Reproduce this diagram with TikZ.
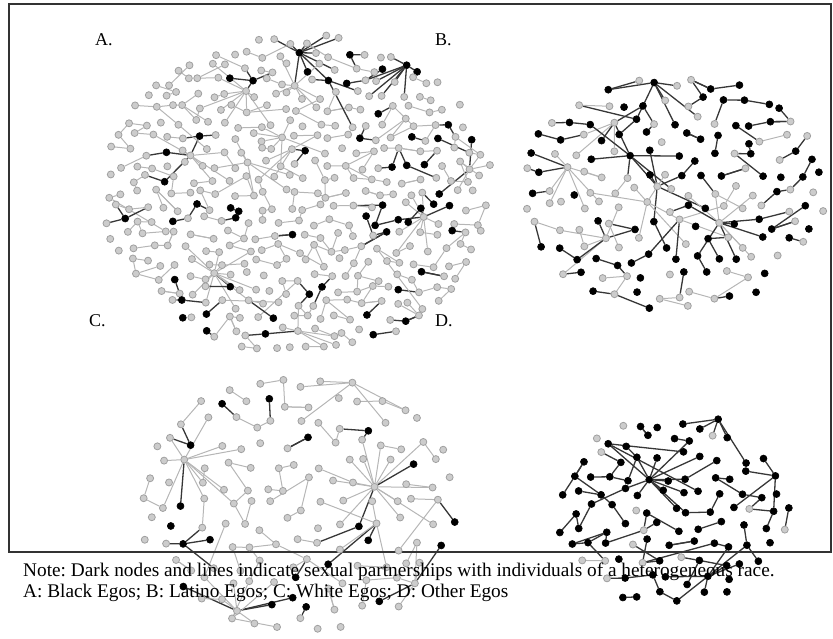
\documentclass[tikz,border=0pt]{standalone}
\usepackage{fontspec}
\setmainfont{Liberation Serif}
\usetikzlibrary{backgrounds}
\definecolor{edgegray}{RGB}{182,182,182}
\definecolor{nodegray}{RGB}{204,204,204}
\definecolor{rimgray}{RGB}{160,160,160}
\definecolor{darkline}{RGB}{55,55,55}

\tikzset{
  gnode/.style={circle, fill=nodegray, draw=rimgray, line width=0.8pt, inner sep=0pt, minimum size=7pt},
  dnode/.style={circle, fill=black, draw=black, line width=0.6pt, inner sep=0pt, minimum size=7pt},
  gedge/.style={edgegray, line width=1pt},
  dedge/.style={darkline, line width=1.3pt},
  tag/.style={font=\fontsize{18}{20}\selectfont, anchor=base west, inner sep=0pt},
  note/.style={font=\fontsize{19.3}{21}\selectfont\frenchspacing, anchor=base west, inner sep=0pt},
}

% tie between grid nodes #2/#3 and #4/#5 of network #1, dark if one end is dark
\newcommand\addtie[5]{%
  \def\eg{gedge}%
  \ifcsname dk-#1-#2-#3\endcsname\def\eg{dedge}\fi
  \ifcsname dk-#1-#4-#5\endcsname\def\eg{dedge}\fi
  \xdef\edgelist{\ifx\edgelist\empty\else\edgelist,\fi#1-#2-#3/#1-#4-#5/\eg}}

% #1 name, #2 cx, #3 cy, #4 rx, #5 ry, #6 cell, #7 share dark, #8 share hubs, #9 share tied
\newcommand\drawnet[9]{%
  \gdef\edgelist{}\gdef\hublist{}%
  \pgfmathtruncatemacro\nx{#4/#6+1}
  \pgfmathtruncatemacro\nxm{-\nx}
  \pgfmathtruncatemacro\ny{#5/(0.87*#6)+1}
  \pgfmathtruncatemacro\nym{-\ny}
  % nodes
  \foreach \j in {\nym,...,\ny}{
    \foreach \i in {\nxm,...,\nx}{
      \pgfmathsetmacro\px{#2+(\i+0.5*mod(abs(\j),2))*#6+0.3*#6*rand}
      \pgfmathsetmacro\py{#3+\j*0.87*#6+0.3*#6*rand}
      \pgfmathsetmacro\dd{((\px-#2)/#4)^2+((\py-#3)/#5)^2}
      \ifdim\dd pt<1pt
        \pgfmathtruncatemacro\ci{\i+50}
        \pgfmathtruncatemacro\cj{\j+50}
        \expandafter\xdef\csname in-#1-\ci-\cj\endcsname{1}%
        \pgfmathtruncatemacro\nd{rnd<#7}
        \ifnum\nd=1
          \expandafter\xdef\csname dk-#1-\ci-\cj\endcsname{1}%
          \node[dnode] (#1-\ci-\cj) at (\px,\py) {};
        \else
          \node[gnode] (#1-\ci-\cj) at (\px,\py) {};
        \fi
        \pgfmathtruncatemacro\nh{rnd<#8}
        \ifnum\nh=1 \xdef\hublist{\ifx\hublist\empty\else\hublist,\fi\ci/\cj}\fi
      \fi
    }
  }
  % stars
  \ifx\hublist\empty\else
  \foreach \hi/\hj in \hublist{
    \expandafter\xdef\csname tk-#1-\hi-\hj\endcsname{1}%
    \foreach \di in {-2,...,2}{
      \foreach \dj in {-2,...,2}{
        \pgfmathtruncatemacro\ti{\hi+\di}
        \pgfmathtruncatemacro\tj{\hj+\dj}
        \ifcsname in-#1-\ti-\tj\endcsname
        \ifcsname tk-#1-\ti-\tj\endcsname\else
          \pgfmathtruncatemacro\go{rnd<0.45}
          \ifnum\go=1
            \expandafter\xdef\csname tk-#1-\ti-\tj\endcsname{1}%
            \addtie{#1}{\hi}{\hj}{\ti}{\tj}
          \fi
        \fi\fi
      }
    }
  }\fi
  % dyads and chains
  \foreach \j in {\nym,...,\ny}{
    \foreach \i in {\nxm,...,\nx}{
      \pgfmathtruncatemacro\ci{\i+50}
      \pgfmathtruncatemacro\cj{\j+50}
      \ifcsname in-#1-\ci-\cj\endcsname
      \ifcsname tk-#1-\ci-\cj\endcsname\else
        \pgfmathtruncatemacro\go{rnd<#9}
        \ifnum\go=1
          \pgfmathsetmacro\lr{rnd<0.05 ? 4 : 1}
          \pgfmathtruncatemacro\ti{\ci+round((2*rnd-1)*\lr)}
          \pgfmathtruncatemacro\tj{\cj+round((2*rnd-1)*\lr)}
          \ifnum\ti=\ci \ifnum\tj=\cj \pgfmathtruncatemacro\ti{\ci+1}\fi\fi
          \ifcsname in-#1-\ti-\tj\endcsname
            \addtie{#1}{\ci}{\cj}{\ti}{\tj}
          \fi
        \fi
      \fi\fi
    }
  }
  \begin{pgfonlayer}{background}
    \foreach \p/\q/\s in \edgelist {\draw[\s] (\p) -- (\q);}
  \end{pgfonlayer}
}

\begin{document}
\begin{tikzpicture}[x=1pt, y=-1pt]
  \useasboundingbox (0,0) rectangle (833,639);
  \draw[black!80, line width=1.6pt] (9,4) rectangle (831,552);

  % the four ego networks
  \pgfmathsetseed{11}
  \drawnet{A}{298}{193}{196}{161}{16}{0.1}{0.035}{0.92}
  \pgfmathsetseed{23}
  \drawnet{B}{674}{190}{155}{121}{20}{0.45}{0.045}{0.9}
  \pgfmathsetseed{37}
  \drawnet{C}{300}{504}{162}{130}{23}{0.18}{0.035}{0.9}
  \pgfmathsetseed{41}
  \drawnet{D}{671}{510}{119}{99}{20}{0.85}{0.045}{0.92}

  \node[tag] (labA) at (95,46) {A.};
  \node[tag] (labB) at (435,46) {B.};
  \node[tag] (labC) at (89,326) {C.};
  \node[tag] (labD) at (435,326) {D.};

  \node[note] (note1) at (23,576) {Note: Dark nodes and lines indicate sexual partnerships with individuals of a heterogeneous race.};
  \node[note] (note2) at (23,597) {A: Black Egos; B: Latino Egos; C: White Egos; D: Other Egos};
\end{tikzpicture}
\end{document}
